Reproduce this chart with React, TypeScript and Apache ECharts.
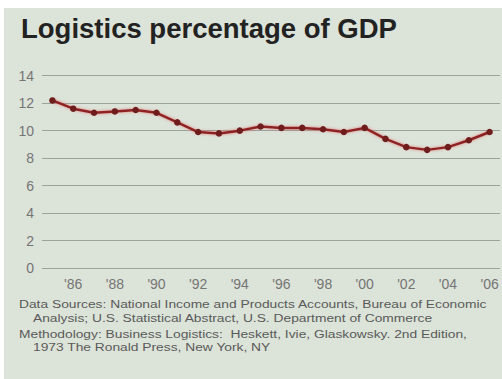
import React, { useEffect, useRef } from "react";
import * as echarts from "echarts";

const years = [
  "1985", "1986", "1987", "1988", "1989", "1990", "1991", "1992", "1993", "1994", "1995",
  "1996", "1997", "1998", "1999", "2000", "2001", "2002", "2003", "2004", "2005", "2006",
];
const logisticsPct = [
  12.2, 11.6, 11.3, 11.4, 11.5, 11.3, 10.6, 9.9, 9.8, 10.0, 10.3,
  10.2, 10.2, 10.1, 9.9, 10.2, 9.4, 8.8, 8.6, 8.8, 9.3, 9.9,
];
const titleText = "Logistics percentage of GDP";
const footLines = [
  "Data Sources: National Income and Products Accounts, Bureau of Economic",
  "Analysis; U.S. Statistical Abstract, U.S. Department of Commerce",
  "Methodology: Business Logistics:  Heskett, Ivie, Glaskowsky. 2nd Edition,",
  "1973 The Ronald Press, New York, NY",
];

export default function App() {
  const ref = useRef<HTMLDivElement>(null);
  useEffect(() => {
    if (!ref.current) return;
    const chart = echarts.init(ref.current, undefined, { renderer: "svg" });
    const font = "Liberation Sans, Arial, sans-serif";
    const footPos = [
      { x: 19, y: 304 },
      { x: 33, y: 318 },
      { x: 19, y: 334 },
      { x: 33, y: 347 },
    ];
    chart.setOption({
      animation: false,
      backgroundColor: "#ffffff",
      graphic: [
        {
          type: "rect",
          z: -10,
          shape: { x: 4, y: 8, width: 498, height: 371 },
          style: { fill: "#dce3d9" },
          silent: true,
        },
        {
          type: "text",
          x: 21,
          y: 28,
          style: {
            text: titleText,
            fill: "#222222",
            font: `bold 27.5px ${font}`,
            textVerticalAlign: "middle",
          },
        },
        ...footLines.map((t, i) => ({
          type: "text",
          x: footPos[i].x,
          y: footPos[i].y,
          scaleX: 1.2,
          style: {
            text: t,
            fill: "#5a5a5a",
            font: `11.5px ${font}`,
            textVerticalAlign: "middle",
          },
        })),
      ],
      grid: { left: 42, right: 2, top: 75.7, bottom: 111, containLabel: false },
      xAxis: {
        type: "category",
        data: years,
        boundaryGap: true,
        axisLine: { show: false },
        axisTick: { show: false },
        splitLine: { show: false },
        axisLabel: {
          interval: (i: number) => i % 2 === 1,
          formatter: (v: string) => "'" + v.slice(2),
          color: "#757575",
          fontSize: 14,
          fontFamily: font,
          margin: 9,
        },
      },
      yAxis: {
        type: "value",
        min: 0,
        max: 14,
        interval: 2,
        axisLine: { show: false },
        axisTick: { show: false },
        axisLabel: {
          color: "#757575",
          fontSize: 14,
          fontFamily: font,
          margin: 8,
        },
        splitLine: { lineStyle: { color: "#9ca39c", width: 1 } },
      },
      series: [
        {
          type: "line",
          data: logisticsPct,
          symbol: "circle",
          symbolSize: 6.5,
          itemStyle: { color: "#6e1c1c" },
          lineStyle: {
            color: "#8e2424",
            width: 2.5,
            shadowColor: "rgba(225,100,100,0.8)",
            shadowBlur: 3,
          },
        },
      ],
    });
    return () => chart.dispose();
  }, []);
  return (
    <div
      ref={ref}
      style={{ position: "absolute", left: 0, top: 0, width: 502, height: 379 }}
    />
  );
}
